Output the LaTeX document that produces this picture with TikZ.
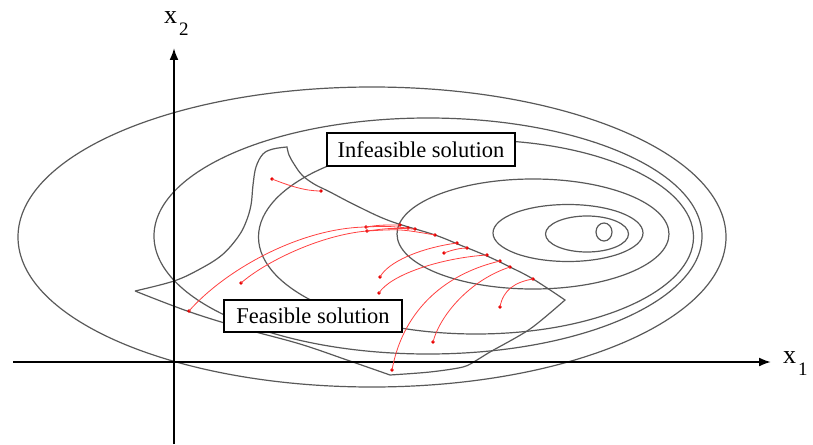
\documentclass[tikz,border=0pt]{standalone}
\usepackage{fontspec}
\setmainfont{Liberation Serif}
\newfontfamily\lserif{Liberation Serif}
\usetikzlibrary{arrows.meta}
\begin{document}
\begin{tikzpicture}[x=1pt,y=-1pt,
  contour/.style={draw=black!65, line width=1.2pt},
  axisline/.style={draw=black, line width=2pt, -{Latex[length=12pt,width=9pt]}},
  traj/.style={draw=red!75, line width=0.8pt},
  rdot/.style={circle, fill=red!90!black, inner sep=0pt, minimum size=3.6pt},
  lbl/.style={draw=black, fill=white, line width=1.2pt, inner sep=0pt, font=\lserif\fontsize{22.5}{26}\selectfont},
  axlbl/.style={anchor=base west, inner sep=0pt, font=\lserif\fontsize{26}{28}\selectfont},
  axsub/.style={anchor=base west, inner sep=0pt, font=\lserif\fontsize{19}{22}\selectfont}
]
\useasboundingbox (0,0) rectangle (813,444);

% contour ellipses
\draw[contour] (372,237) ellipse [x radius=354, y radius=150];
\draw[contour] (428,236) ellipse [x radius=274, y radius=118];
\draw[contour] (476,237) ellipse [x radius=217.5, y radius=97];
\draw[contour] (533,234) ellipse [x radius=136, y radius=55];
\draw[contour] (568,233) ellipse [x radius=75, y radius=28.5];
\draw[contour] (587,234) ellipse [x radius=41.5, y radius=18];
\draw[contour] (604,232) ellipse [x radius=8, y radius=9];

% feasible region outline
\draw[contour, line join=miter]
  plot[smooth, tension=0.6] coordinates {(135,291) (174,281) (200,269) (222,255) (238,237) (246,222) (251,205) (253,185) (256,167) (263,154) (273,149) (287,147)}
  -- plot[smooth, tension=0.6] coordinates {(287,147) (289,155) (294,164) (302,175) (314,184) (330,192) (357,206) (390,221) (435,235) (460,245) (487,256) (510,267) (533,279) (565,300)}
  -- plot[smooth, tension=0.5] coordinates {(565,300) (530,329) (490,352) (477,360) (463,367) (430,372) (390,375)}
  -- plot[smooth, tension=0.6] coordinates {(390,375) (347,360) (300,344) (245,329) (190,312) (135,291)};

% axes
\coordinate (xs) at (13,362);
\coordinate (xe) at (771,362);
\coordinate (ys) at (174,444);
\coordinate (ye) at (174,48);
\draw[axisline] (xs) -- (xe);
\draw[axisline] (ys) -- (ye);
\node[axlbl] (x2) at (164,24) {x};
\node[axsub] (x2s) at (179,36) {2};
\node[axlbl] (x1) at (783,363) {x};
\node[axsub] (x1s) at (798,375) {1};

% labels
\node[lbl, minimum width=188pt, minimum height=33pt] (inf) at (421,149.5) {Infeasible solution};
\node[lbl, minimum width=178pt, minimum height=32pt] (fea) at (313,316) {Feasible solution};

% trajectory points
\node[rdot] (s1) at (272,179) {};
\node[rdot] (e1) at (321,191) {};
\node[rdot] (s2) at (189,311) {};
\node[rdot] (s3) at (241,283) {};
\node[rdot] (m1) at (366,227) {};
\node[rdot] (m2) at (367,231) {};
\node[rdot] (e2) at (400,225) {};
\node[rdot] (e3) at (408,228) {};
\node[rdot] (e4) at (415,229) {};
\node[rdot] (e5) at (435,235) {};
\node[rdot] (s4) at (380,277) {};
\node[rdot] (e6) at (457,243) {};
\node[rdot] (s5) at (444,253) {};
\node[rdot] (e7) at (467,248) {};
\node[rdot] (s6) at (379,293) {};
\node[rdot] (e8) at (487,255) {};
\node[rdot] (s7) at (392,370) {};
\node[rdot] (e9) at (500,261) {};
\node[rdot] (s8) at (433,342) {};
\node[rdot] (e10) at (510,267) {};
\node[rdot] (s9) at (500,307) {};
\node[rdot] (e11) at (533,279) {};

% trajectories
\draw[traj] (s1.center) .. controls (290,186) and (305,191) .. (e1.center);
\draw[traj] (s2.center) .. controls (225,270) and (300,228) .. (m1.center);
\draw[traj] (s3.center) .. controls (265,262) and (320,235) .. (m2.center);
\draw[traj] (m1.center) .. controls (380,225) .. (e2.center);
\draw[traj] (m1.center) .. controls (385,226) .. (e3.center);
\draw[traj] (m2.center) .. controls (390,228) .. (e4.center);
\draw[traj] (m2.center) .. controls (400,229) .. (e5.center);
\draw[traj] (s4.center) .. controls (388,262) and (420,248) .. (e6.center);
\draw[traj] (s5.center) .. controls (452,250) and (460,248) .. (e7.center);
\draw[traj] (s6.center) .. controls (390,275) and (440,258) .. (e8.center);
\draw[traj] (s7.center) .. controls (402,315) and (440,275) .. (e9.center);
\draw[traj] (s8.center) .. controls (440,315) and (470,280) .. (e10.center);
\draw[traj] (s9.center) .. controls (503,290) and (515,282) .. (e11.center);
\end{tikzpicture}
\end{document}
